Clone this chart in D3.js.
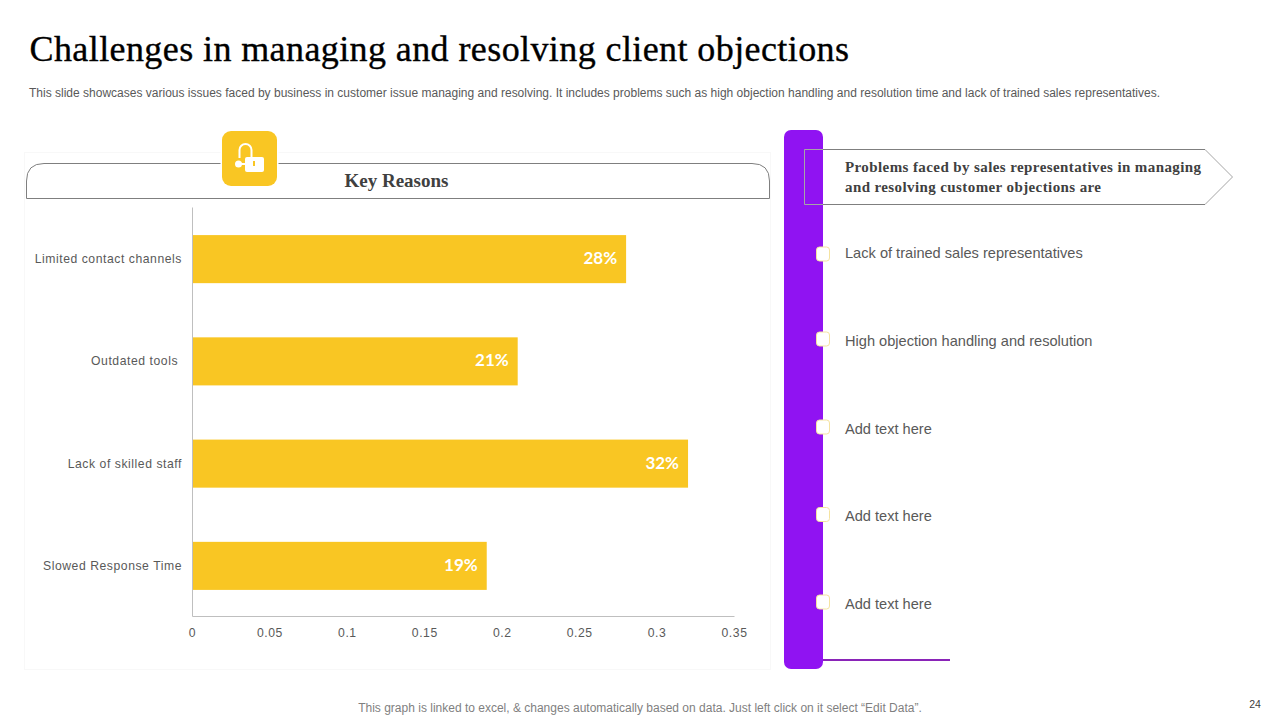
<!DOCTYPE html>
<html>
<head>
<meta charset="utf-8">
<title>Challenges in managing and resolving client objections</title>
<script src="https://cdn.jsdelivr.net/npm/d3@7"></script>
<style>
  html, body { margin: 0; padding: 0; background: #fff; }
  svg { display: block; }
  text { font-family: "Liberation Sans", Arial, sans-serif; white-space: pre; }
  .serif { font-family: "Liberation Serif", "Times New Roman", serif; }
  .axis path, .axis line { stroke: #bfbfbf; }
  .axis text { font-family: "Liberation Sans", Arial, sans-serif; font-size: 12.2px; fill: #595959; letter-spacing: 0.55px; }
  .bullet-text { font-size: 14.6px; fill: #595959; }
</style>
</head>
<body>
<div id="chart"></div>
<script>
// chart data
var categories = ["Limited contact channels", "Outdated tools ", "Lack of skilled staff", "Slowed Response Time"];
var values = [0.28, 0.21, 0.32, 0.19];
var valueLabels = ["28%", "21%", "32%", "19%"];
var tickValues = [0, 0.05, 0.1, 0.15, 0.2, 0.25, 0.3, 0.35];

var titleText = "Challenges in managing and resolving client objections";
var subtitleText = "This slide showcases various issues faced by business in customer issue managing and resolving. It includes problems such as high objection handling and resolution time and lack of trained sales representatives.";
var panelTitle = "Key Reasons";
var problemLines = ["Problems faced by sales representatives in managing", "and resolving customer objections are"];
var bulletTexts = ["Lack of trained sales representatives", "High objection handling and resolution", "Add text here", "Add text here", "Add text here"];
var bulletTextY = [253, 341, 429, 516, 604];
var bulletBoxY = [254, 339, 427, 514.5, 602];
var footerText = "This graph is linked to excel, & changes automatically based on data. Just left click on it select \u201CEdit Data\u201D.";
var pageNumber = "24";

var svgWidth = 1280;
var svgHeight = 720;
var yellow = "#F9C623";
var purple = "#9013F2";

var svg = d3.select("#chart")
    .append("svg")
    .attr("width", svgWidth)
    .attr("height", svgHeight);

// title and subtitle
svg.append("text")
    .attr("class", "serif")
    .attr("x", 29.5)
    .attr("y", 61)
    .attr("font-size", 36)
    .attr("fill", "#000")
    .attr("stroke", "#000")
    .attr("stroke-width", 0.35)
    .attr("textLength", 819.5)
    .text(titleText);

svg.append("text")
    .attr("x", 29)
    .attr("y", 97)
    .attr("font-size", 12)
    .attr("fill", "#595959")
    .attr("textLength", 1131)
    .text(subtitleText);

// left panel
svg.append("rect")
    .attr("x", 24.5)
    .attr("y", 152.5)
    .attr("width", 746)
    .attr("height", 517)
    .attr("fill", "#fff")
    .attr("stroke", "#f8f8f8");

svg.append("path")
    .attr("d", "M26.5,198.5 V181 Q26.5,163.5 44,163.5 H752 Q769.5,163.5 769.5,181 V198.5 Z")
    .attr("fill", "#fff")
    .attr("stroke", "#7f7f7f");

svg.append("text")
    .attr("class", "serif")
    .attr("x", 396.5)
    .attr("y", 187)
    .attr("text-anchor", "middle")
    .attr("font-size", 19)
    .attr("font-weight", "bold")
    .attr("fill", "#404040")
    .text(panelTitle);

// lock icon
var icon = svg.append("g").attr("transform", "translate(222, 131)");
icon.append("rect")
    .attr("x", -1.5).attr("y", -1.5)
    .attr("width", 58).attr("height", 58)
    .attr("rx", 10)
    .attr("fill", "#fff");
icon.append("rect")
    .attr("width", 55).attr("height", 55)
    .attr("rx", 9)
    .attr("fill", yellow);
icon.append("path")
    .attr("d", "M17.5,27 V19 A6,6 0 0 1 29.5,19 V28")
    .attr("fill", "none")
    .attr("stroke", "#fff")
    .attr("stroke-width", 2);
icon.append("rect")
    .attr("x", 23).attr("y", 26)
    .attr("width", 19).attr("height", 15)
    .attr("rx", 2)
    .attr("fill", "#fff");
icon.append("circle")
    .attr("cx", 16.5).attr("cy", 33)
    .attr("r", 3.5)
    .attr("fill", "#fff");
icon.append("line")
    .attr("x1", 16).attr("x2", 26)
    .attr("y1", 33).attr("y2", 33)
    .attr("stroke", "#fff")
    .attr("stroke-width", 2);
icon.append("rect")
    .attr("x", 31).attr("y", 30)
    .attr("width", 2).attr("height", 5)
    .attr("fill", yellow);

// scales
var xScale = d3.scaleLinear()
    .domain([0, 0.35])
    .range([192.5, 734.5]);

var yScale = d3.scaleBand()
    .domain(categories)
    .range([207, 616])
    .paddingInner(0.53)
    .paddingOuter(0.265);

// bars
svg.selectAll(".bar")
    .data(values)
    .enter()
    .append("rect")
    .attr("class", "bar")
    .attr("x", xScale(0))
    .attr("y", (d, i) => yScale(categories[i]) + 1)
    .attr("width", d => xScale(d) - xScale(0))
    .attr("height", yScale.bandwidth())
    .attr("fill", yellow);

// value labels
svg.selectAll(".bar-label")
    .data(values)
    .enter()
    .append("text")
    .attr("class", "bar-label")
    .attr("x", d => xScale(d) - 9)
    .attr("y", (d, i) => yScale(categories[i]) + yScale.bandwidth() / 2)
    .attr("dy", "0.36em")
    .attr("text-anchor", "end")
    .attr("font-size", 17)
    .attr("font-weight", "bold")
    .attr("fill", "#fff")
    .attr("style", "font-family: Lato, sans-serif")
    .text((d, i) => valueLabels[i]);

// axes
var bottomAxis = d3.axisBottom(xScale)
    .tickValues(tickValues)
    .tickFormat(d => String(d))
    .tickSize(0)
    .tickPadding(12);

var leftAxis = d3.axisLeft(yScale)
    .tickSize(0)
    .tickPadding(10);

svg.append("g")
    .attr("class", "axis")
    .attr("transform", "translate(-0.5, 616)")
    .call(bottomAxis);

var yAxisGroup = svg.append("g")
    .attr("class", "axis")
    .attr("transform", "translate(192, 0)")
    .call(leftAxis);
yAxisGroup.selectAll("text").attr("y", 1);

// right side, purple bar and arrow
svg.append("rect")
    .attr("x", 784)
    .attr("y", 130)
    .attr("width", 39)
    .attr("height", 539)
    .attr("rx", 7)
    .attr("fill", purple);

svg.append("line")
    .attr("x1", 823).attr("x2", 950)
    .attr("y1", 660).attr("y2", 660)
    .attr("stroke", "#8A24B8")
    .attr("stroke-width", 2);

svg.append("path")
    .attr("d", "M804.5,149.5 H1205 L1232.5,177 L1205,204.5 H804.5 Z")
    .attr("fill", "none")
    .attr("stroke", "#a6a6a6");
svg.append("path")
    .attr("d", "M823,149.5 H1205 M823,204.5 H1205")
    .attr("fill", "none")
    .attr("stroke", "#7f7f7f");

svg.selectAll(".problem-line")
    .data(problemLines)
    .enter()
    .append("text")
    .attr("class", "problem-line serif")
    .attr("x", 845)
    .attr("y", (d, i) => 172 + i * 20)
    .attr("font-size", 15)
    .attr("font-weight", "bold")
    .attr("fill", "#404040")
    .attr("textLength", (d, i) => i == 0 ? 356 : 256)
    .text(d => d);

// bullets
svg.selectAll(".bullet-box")
    .data(bulletBoxY)
    .enter()
    .append("rect")
    .attr("class", "bullet-box")
    .attr("x", 816.5)
    .attr("y", d => d - 7)
    .attr("width", 13)
    .attr("height", 14)
    .attr("rx", 3)
    .attr("fill", "#fff")
    .attr("stroke", "#F5E3A0");

svg.selectAll(".bullet-text")
    .data(bulletTexts)
    .enter()
    .append("text")
    .attr("class", "bullet-text")
    .attr("x", 845)
    .attr("y", (d, i) => bulletTextY[i])
    .attr("dy", "0.36em")
    .text(d => d);

// footer
svg.append("text")
    .attr("x", 640)
    .attr("y", 712)
    .attr("text-anchor", "middle")
    .attr("font-size", 12)
    .attr("fill", "#7f7f7f")
    .text(footerText);

svg.append("text")
    .attr("x", 1255)
    .attr("y", 708)
    .attr("text-anchor", "middle")
    .attr("font-size", 10.5)
    .attr("fill", "#404040")
    .text(pageNumber);
</script>
</body>
</html>
